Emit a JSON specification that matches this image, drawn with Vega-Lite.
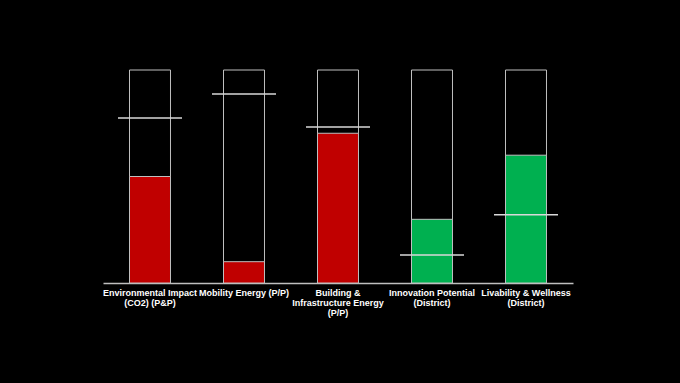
{
  "$schema": "https://vega.github.io/schema/vega-lite/v6.json",
  "width": 470,
  "height": 213,
  "autosize": {"type": "none"},
  "padding": {"left": 103, "top": 70, "right": 107, "bottom": 100},
  "background": "#000000",
  "config": {"view": {"stroke": null}},
  "data": {
    "values": [
      {"category": "Environmental Impact|(CO2) (P&P)", "value": 50, "target": 77.5, "max": 100, "status": "bad"},
      {"category": "Mobility Energy (P/P)", "value": 10, "target": 88.7, "max": 100, "status": "bad"},
      {"category": "Building &|Infrastructure Energy|(P/P)", "value": 70.3, "target": 73.2, "max": 100, "status": "bad"},
      {"category": "Innovation Potential|(District)", "value": 29.9, "target": 13.1, "max": 100, "status": "good"},
      {"category": "Livability & Wellness|(District)", "value": 60, "target": 32.1, "max": 100, "status": "good"}
    ]
  },
  "encoding": {
    "x": {
      "field": "category",
      "type": "nominal",
      "sort": null,
      "scale": {"paddingInner": 0.564, "paddingOuter": 0.282},
      "axis": {
        "title": null,
        "labelAngle": 0,
        "labelExpr": "split(datum.value, '|')",
        "labelColor": "#ffffff",
        "labelFont": "Liberation Sans",
        "labelFontWeight": "bold",
        "labelFontSize": 9,
        "labelLineHeight": 10,
        "labelPadding": 5,
        "labelLimit": 200,
        "ticks": false,
        "domainColor": "#bfbfbf",
        "domainWidth": 1.5
      }
    }
  },
  "layer": [
    {
      "mark": {"type": "bar", "fill": "#000000", "stroke": "#bfbfbf", "strokeWidth": 1},
      "encoding": {
        "y": {"field": "max", "type": "quantitative", "scale": {"domain": [0, 100]}, "axis": null}
      }
    },
    {
      "mark": {"type": "bar", "stroke": "#bfbfbf", "strokeWidth": 1},
      "encoding": {
        "y": {"field": "value", "type": "quantitative", "scale": {"domain": [0, 100]}, "axis": null},
        "fill": {
          "field": "status",
          "type": "nominal",
          "scale": {"domain": ["bad", "good"], "range": ["#c00000", "#00b050"]},
          "legend": null
        }
      }
    },
    {
      "mark": {"type": "tick", "orient": "horizontal", "size": 64, "thickness": 1.5, "color": "#d9d9d9", "opacity": 1},
      "encoding": {
        "y": {"field": "target", "type": "quantitative", "scale": {"domain": [0, 100]}, "axis": null}
      }
    }
  ]
}
